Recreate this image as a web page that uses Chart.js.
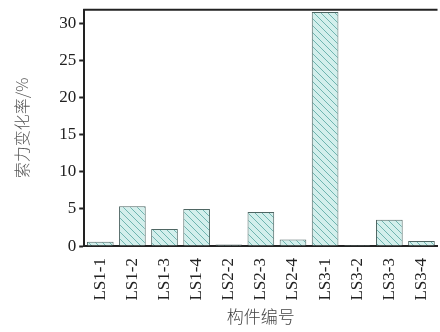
<!DOCTYPE html>
<html>
<head>
<meta charset="utf-8">
<script src="https://cdn.jsdelivr.net/npm/chart.js@4.4.1/dist/chart.umd.min.js"></script>
<style>
    html, body { margin: 0; padding: 0; background: #fff; overflow: hidden; }
    #wrap { width: 446px; height: 332px; }
</style>
</head>
<body>
<div id="wrap"><canvas id="barChart" width="446" height="332"></canvas></div>
<script>
const members = ['LS1-1', 'LS1-2', 'LS1-3', 'LS1-4', 'LS2-2', 'LS2-3', 'LS2-4', 'LS3-1', 'LS3-2', 'LS3-3', 'LS3-4'];
const changeRate = [0.6, 5.35, 2.3, 4.98, 0.2, 4.58, 0.9, 31.5, 0.15, 3.56, 0.67];
const yTicks = [0, 5, 10, 15, 20, 25, 30];

//..hatched fill for the bars
function makeHatch() {
    const c = document.createElement('canvas');
    c.width = 7;
    c.height = 7;
    const g = c.getContext('2d');
    g.fillStyle = '#d3efec';
    g.fillRect(0, 0, 7, 7);
    g.strokeStyle = '#6fb5b0';
    g.lineWidth = 1;
    g.beginPath();
    g.moveTo(-1, -1);
    g.lineTo(8, 8);
    g.moveTo(-1, 6);
    g.lineTo(1, 8);
    g.moveTo(6, -1);
    g.lineTo(8, 1);
    g.stroke();
    return g.createPattern(c, 'repeat');
}

//..top frame line
const topLine = {
    id: 'topLine',
    afterDraw(chart) {
        const { ctx, chartArea } = chart;
        ctx.save();
        ctx.strokeStyle = '#222';
        ctx.lineWidth = 2;
        ctx.beginPath();
        ctx.moveTo(chartArea.left - 1, chartArea.top);
        ctx.lineTo(chartArea.right, chartArea.top);
        ctx.stroke();
        ctx.restore();
    }
};

const serif = "'Liberation Serif', 'Times New Roman', serif";
const cjk = "'Noto Sans CJK SC', sans-serif";

new Chart(document.getElementById('barChart'), {
    type: 'bar',
    data: {
        labels: members,
        datasets: [{
            data: changeRate,
            backgroundColor: makeHatch(),
            borderColor: '#4f6663',
            borderWidth: 1,
            barPercentage: 0.83,
            categoryPercentage: 1
        }]
    },
    options: {
        responsive: false,
        animation: false,
        layout: {
            padding: { left: 12, right: 3, top: 8, bottom: 5 }
        },
        plugins: {
            legend: { display: false },
            tooltip: { enabled: false }
        },
        scales: {
            x: {
                grid: { display: false },
                border: { color: '#222', width: 2 },
                ticks: {
                    minRotation: 90,
                    maxRotation: 90,
                    autoSkip: false,
                    padding: 4,
                    color: '#222',
                    font: { family: serif, size: 17 }
                },
                title: {
                    display: true,
                    text: '构件编号',
                    color: '#444',
                    padding: { top: 2, bottom: 0 },
                    font: { family: cjk, size: 17, weight: 300 }
                }
            },
            y: {
                min: 0,
                max: 31.8,
                afterBuildTicks: scale => {
                    scale.ticks = yTicks.map(v => ({ value: v }));
                },
                grid: {
                    drawOnChartArea: false,
                    drawTicks: true,
                    tickLength: 5,
                    tickWidth: 2,
                    color: '#222'
                },
                border: { color: '#222', width: 2 },
                ticks: {
                    padding: 3,
                    color: '#222',
                    font: { family: serif, size: 17, lineHeight: 0.8 }
                },
                title: {
                    display: true,
                    text: '索力变化率/%',
                    color: '#555',
                    padding: { top: 0, bottom: 25 },
                    font: { family: cjk, size: 16, weight: 300 }
                }
            }
        }
    },
    plugins: [topLine]
});
</script>
</body>
</html>
